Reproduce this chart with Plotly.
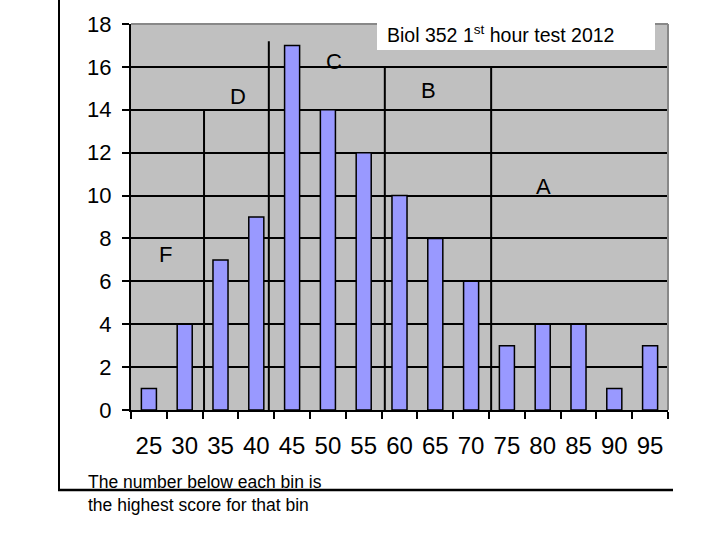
import plotly.graph_objects as go

# ---- data ----
bins = ["25", "30", "35", "40", "45", "50", "55", "60", "65", "70", "75", "80", "85", "90", "95"]
counts = [1, 4, 7, 9, 17, 14, 12, 10, 8, 6, 3, 4, 4, 1, 3]
y_ticks = [0, 2, 4, 6, 8, 10, 12, 14, 16, 18]

# grade boundary lines (category-index position, top value)
divider_pos = [1.54, 3.35, 6.59, 9.56]
divider_top = [14, 17.2, 16, 16]

# grade letters (category-index position, value)
grades = ["F", "D", "C", "B", "A"]
grade_x = [0.45, 2.49, 5.17, 7.82, 11.01]
grade_y = [7.23, 14.6, 16.23, 14.88, 10.4]

title_text = "Biol 352 1<sup>st</sup> hour test 2012"
note_lines = ["The number below each bin is", "the highest score for that bin"]

FONT = "Liberation Sans"

# plot area in pixels
L, R, T, B = 131, 668, 24, 410
W, H = 720, 540
pw, ph = R - L, B - T

def px(xp):
    return (xp - L) / pw

def py(yp):
    return (B - yp) / ph

fig = go.Figure()
fig.add_trace(go.Bar(
    x=bins, y=counts,
    marker=dict(color="#9999FF", line=dict(color="black", width=1.5)),
    width=0.42,
))

shapes = []
# top & right plot border (gray)
shapes.append(dict(type="line", xref="paper", yref="paper", x0=0, x1=1, y0=1, y1=1,
                   line=dict(color="#888888", width=2)))
shapes.append(dict(type="line", xref="paper", yref="paper", x0=1, x1=1, y0=0, y1=1,
                   line=dict(color="#888888", width=2)))
# grade dividers
for xp, yt in zip(divider_pos, divider_top):
    shapes.append(dict(type="line", xref="x", yref="y", x0=xp, x1=xp, y0=0, y1=yt,
                       line=dict(color="black", width=2)))
# title box
shapes.append(dict(type="rect", xref="paper", yref="paper",
                   x0=px(377), x1=px(655), y0=py(50), y1=py(22),
                   fillcolor="white", line=dict(width=0)))
# slide frame lines
shapes.append(dict(type="line", xref="paper", yref="paper", x0=px(59), x1=px(59),
                   y0=py(490), y1=py(0), line=dict(color="black", width=2)))
shapes.append(dict(type="line", xref="paper", yref="paper", x0=px(58), x1=px(673),
                   y0=py(490), y1=py(490), line=dict(color="black", width=2.5)))

annotations = []
for g, gx, gy in zip(grades, grade_x, grade_y):
    annotations.append(dict(text=g, x=gx, y=gy, xref="x", yref="y", showarrow=False,
                            font=dict(family=FONT, size=22, color="black")))
annotations.append(dict(text=title_text, x=px(385), y=py(34), xref="paper", yref="paper",
                        xanchor="left", yanchor="middle", showarrow=False,
                        font=dict(family=FONT, size=19.5, color="black")))
annotations.append(dict(text=note_lines[0], x=px(86), y=py(482), xref="paper", yref="paper",
                        xanchor="left", yanchor="middle", showarrow=False,
                        font=dict(family=FONT, size=17.5, color="black")))
annotations.append(dict(text=note_lines[1], x=px(86), y=py(505), xref="paper", yref="paper",
                        xanchor="left", yanchor="middle", showarrow=False,
                        font=dict(family=FONT, size=17.5, color="black")))

fig.update_layout(
    width=W, height=H,
    margin=dict(l=L, r=W - R, t=T, b=H - B, pad=0),
    paper_bgcolor="white",
    plot_bgcolor="#C0C0C0",
    showlegend=False,
    shapes=shapes,
    annotations=annotations,
    font=dict(family=FONT, color="black"),
)
fig.update_xaxes(
    type="category", tickson="boundaries", range=[-0.5, 14.5],
    showline=True, linecolor="black", linewidth=2,
    ticks="outside", ticklen=7, tickwidth=2, tickcolor="black",
    showgrid=False, tickfont=dict(family=FONT, size=24, color="black"),
    tickangle=0, ticklabelstandoff=13,
)
fig.update_yaxes(
    range=[0, 18], tickvals=y_ticks,
    showline=True, linecolor="black", linewidth=2,
    ticks="outside", ticklen=7, tickwidth=2, tickcolor="black",
    showgrid=True, gridcolor="black", gridwidth=2, zeroline=False,
    tickfont=dict(family=FONT, size=22, color="black"),
    ticklabelstandoff=6,
)

fig.write_html("out.html", config={"displayModeBar": False},
               post_script="document.body.style.margin='0px';")
